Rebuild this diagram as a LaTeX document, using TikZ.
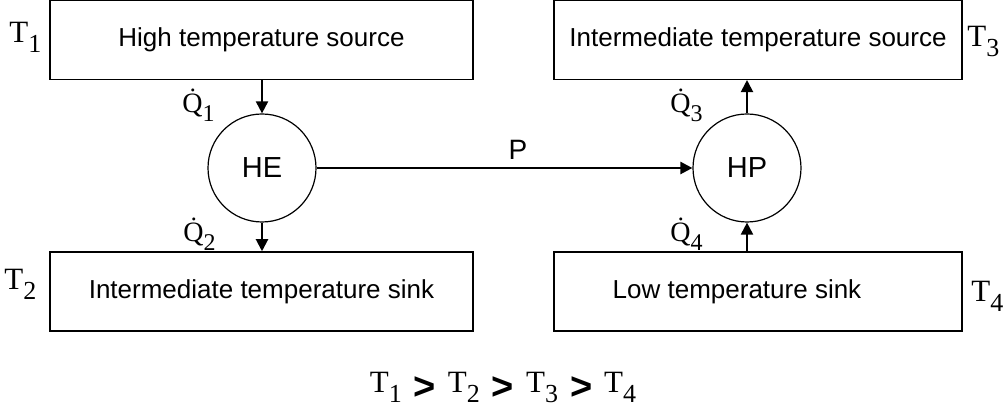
\documentclass[tikz,border=0pt]{standalone}
\usepackage{fontspec}
\setmainfont{Liberation Serif}
\setsansfont{Liberation Sans}
\usepackage{graphicx}
\usepackage{tikz}
\usetikzlibrary{positioning,arrows.meta,calc}
\newcommand{\Tsub}[1]{T\raisebox{-0.3em}{\fontsize{13}{14}\selectfont #1}}
\newcommand{\Qsub}[1]{\.{Q}\raisebox{-0.3em}{\fontsize{12}{13}\selectfont #1}}
\newcommand{\gtsign}{\raisebox{-3.5pt}{\sffamily\bfseries\fontsize{19}{19}\selectfont >}}
\tikzset{
  reservoir/.style={draw,line width=0.75pt,minimum height=39.5pt,inner sep=0pt,font=\sffamily\fontsize{13}{15}\selectfont},
  machine/.style={draw,circle,line width=0.6pt,minimum size=54pt,inner sep=0pt,font=\sffamily\fontsize{14.5}{16}\selectfont},
  flow/.style={-{Triangle[length=6pt,width=6pt]},line width=1pt},
  templab/.style={anchor=base west,inner sep=0pt,font=\fontsize{15.5}{17}\selectfont},
  heatlab/.style={anchor=base west,inner sep=0pt,font=\fontsize{14}{16}\selectfont}
}
\begin{document}
\begin{tikzpicture}[x=0.5pt,y=-0.5pt]
\useasboundingbox (0,0) rectangle (1007,415);
% reservoirs
\node[reservoir,minimum width=211.5pt] (src) at (261.5,39.8) {High temperature source};
\node[reservoir,minimum width=204pt] (isrc) at (758,39.8) {Intermediate temperature source};
\node[reservoir,minimum width=211.5pt] (isink) at (261.5,291.5) {Intermediate temperature sink};
\node[reservoir,minimum width=204pt] (lsink) at (758,291.5) {};
\node[font=\sffamily\fontsize{13}{15}\selectfont] (lsinklab) at (737,291.5) {Low temperature sink};
% engine and pump
\node[machine] (HE) at (262,168) {HE};
\node[machine] (HP) at (747,168) {HP};
% heat flows
\draw[flow] (src.south -| HE.north) -- (HE.north);
\draw[flow] (HE.south) -- (HE.south |- isink.north);
\draw[flow] (HP.north) -- (HP.north |- isrc.south);
\draw[flow] (HP.south |- lsink.north) -- (HP.south);
% power
\draw[flow,line width=1.2pt] (HE.east) -- node[pos=0.536,above=3.5pt,inner sep=0pt,font=\sffamily\fontsize{14}{15}\selectfont] (plab) {P} (HP.west);
% labels
\node[templab] (t1) at (9,43) {\Tsub{1}};
\node[templab] (t2) at (4,290) {\Tsub{2}};
\node[templab] (t3) at (967,47) {\Tsub{3}};
\node[templab] (t4) at (971,302) {\Tsub{4}};
\node[heatlab] (q1) at (182,113) {\Qsub{1}};
\node[heatlab] (q2) at (183,242) {\Qsub{2}};
\node[heatlab] (q3) at (670,113) {\Qsub{3}};
\node[heatlab] (q4) at (670,242) {\Qsub{4}};
% ordering
\node[anchor=base,inner sep=0pt,font=\fontsize{15.5}{17}\selectfont] (order) at (503,393) {\Tsub{1}\hspace{6pt}\gtsign\hspace{6pt}\Tsub{2}\hspace{6pt}\gtsign\hspace{6pt}\Tsub{3}\hspace{6pt}\gtsign\hspace{6pt}\Tsub{4}};
\end{tikzpicture}
\end{document}
